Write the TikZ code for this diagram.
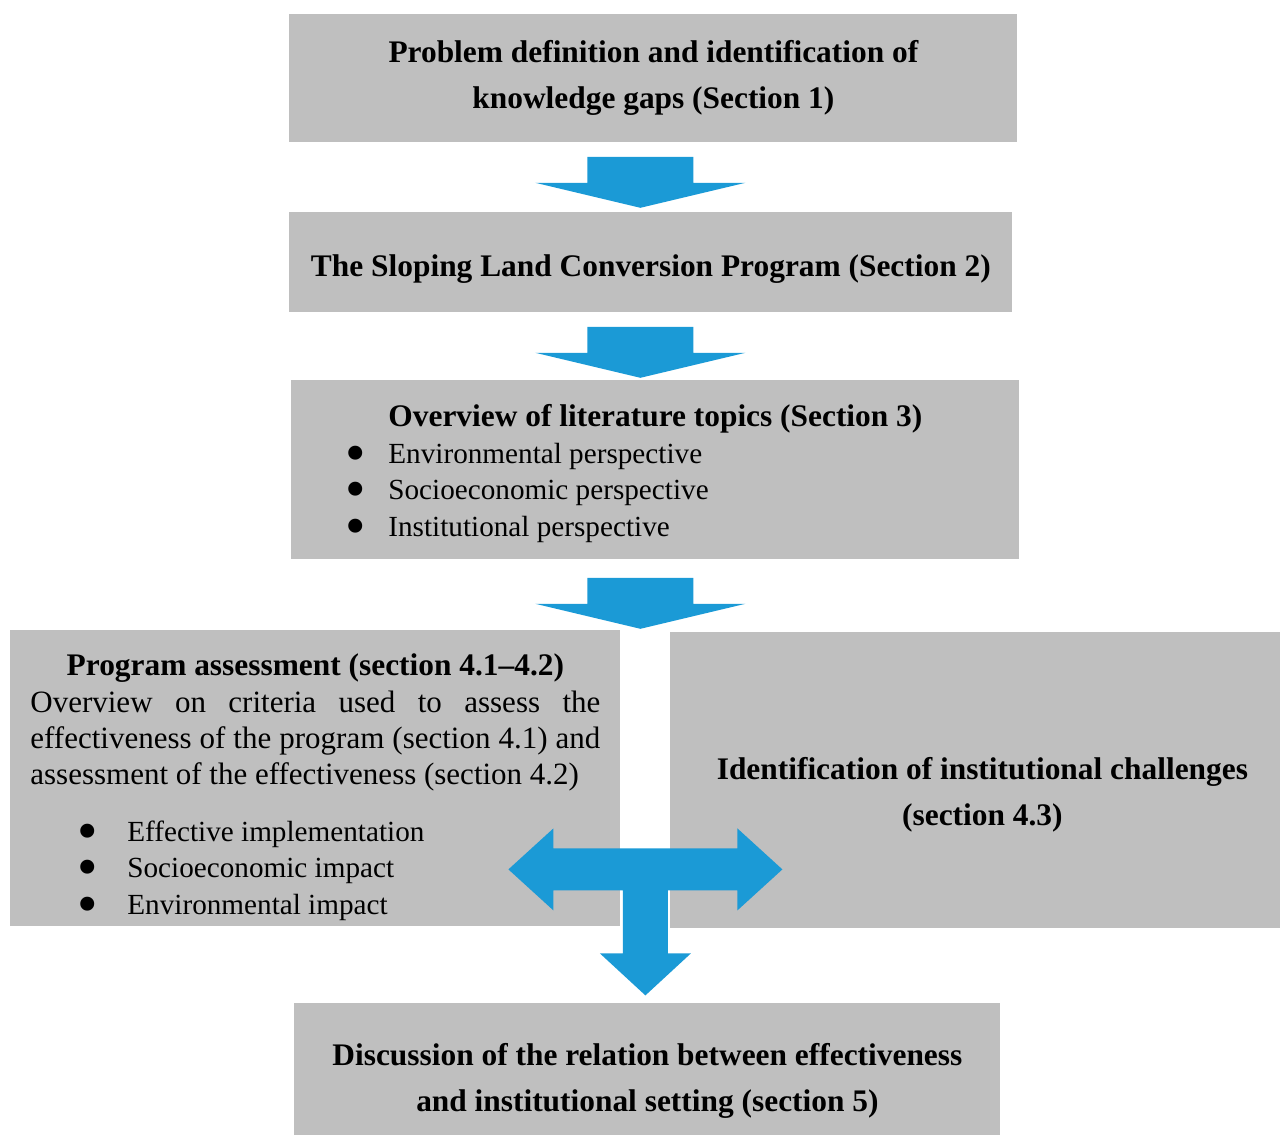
\documentclass[tikz,border=0pt]{standalone}
\usepackage{fontspec}
\setmainfont{Liberation Serif}
\usetikzlibrary{calc}

\definecolor{boxgray}{HTML}{BFBFBF}
\definecolor{flowblue}{HTML}{1B9AD6}

\newcommand{\titlesize}{\fontsize{15.7}{23}\selectfont}
\newcommand{\bodysize}{\fontsize{14.6}{18.2}\selectfont}
\newcommand{\parasize}{\fontsize{15.5}{18.2}\selectfont}
\newcommand{\bulletmark}{\raisebox{-4.5pt}{\scalebox{2}{\textbullet}}}
% bullet centred at #1, text starting at #2
\newcommand{\pointitem}[3]{\hspace*{#1}\makebox[0pt]{\bulletmark}\hspace*{\dimexpr#2-#1\relax}#3}
% move box text down without changing the box
\newcommand{\shiftdown}[2]{\raisebox{-#1}[\height][\depth]{#2}}

\begin{document}
\begin{tikzpicture}[
    x=0.5pt, y=-0.5pt,
    stage/.style={fill=boxgray, inner sep=0pt, align=center, anchor=north west, font=\titlesize\bfseries},
    blockdown/.pic={\fill[flowblue] (-53,0) -- (53,0) -- (53,26) -- (105,26) -- (0,51) -- (-105,26) -- (-53,26) -- cycle;},
    junction/.pic={\fill[flowblue] (-137,0) -- (-92,-41) -- (-92,-21) -- (92,-21) -- (92,-41) -- (137,0) -- (92,41) -- (92,21) -- (22.5,21) -- (22.5,84) -- (45.5,84) -- (0,126) -- (-45.5,84) -- (-22.5,84) -- (-22.5,21) -- (-92,21) -- (-92,41) -- cycle;},
]
\useasboundingbox (0,0) rectangle (1280,1135);

\node[stage, minimum width=364pt, minimum height=64pt] (prob) at (289,14) {Problem definition and identification of\\knowledge gaps (Section 1)};
\node[stage, minimum width=361.5pt, minimum height=50pt] (slcp) at (289,212) {\shiftdown{3.5pt}{The Sloping Land Conversion Program (Section 2)}};
\node[stage, minimum width=364pt, minimum height=89.5pt, font=\bodysize] (topics) at (291,380) {\shiftdown{2.5pt}{\begin{minipage}{364pt}
    \makebox[\linewidth]{\titlesize\bfseries Overview of literature topics (Section 3)}\\
    \pointitem{32pt}{48.5pt}{Environmental perspective}\\
    \pointitem{32pt}{48.5pt}{Socioeconomic perspective}\\
    \pointitem{32pt}{48.5pt}{Institutional perspective}
  \end{minipage}}};
\node[stage, minimum width=305pt, minimum height=148pt, inner xsep=10pt, font=\bodysize] (assess) at (10,630) {\shiftdown{5pt}{\begin{minipage}{285pt}
    \makebox[\linewidth]{\titlesize\bfseries Program assessment (section 4.1--4.2)}\\
    {\parasize Overview on criteria used to assess the\linebreak effectiveness of the program (section 4.1) and\linebreak assessment of the effectiveness (section 4.2)}\\[10pt]
    \pointitem{28.5pt}{48.5pt}{Effective implementation}\\
    \pointitem{28.5pt}{48.5pt}{Socioeconomic impact}\\
    \pointitem{28.5pt}{48.5pt}{Environmental impact}
  \end{minipage}}};
\node[stage, minimum width=312pt, minimum height=148pt] (chal) at (670,632) {\shiftdown{6.5pt}{\begin{tabular}{@{}c@{}}Identification of institutional challenges\\(section 4.3)\end{tabular}}};
\node[stage, minimum width=353pt, minimum height=77pt] (disc) at (294,1003) {Discussion of the relation between effectiveness\\and institutional setting (section 5)};

\path (prob.south) ++(-13,14) pic {blockdown};
\path (slcp.south) ++(-10.5,14) pic {blockdown};
\path (topics.south) ++(-15,18) pic {blockdown};
\path ($(assess.east)!.5!(chal.west)$) ++(0,90) pic {junction};
\end{tikzpicture}
\end{document}
